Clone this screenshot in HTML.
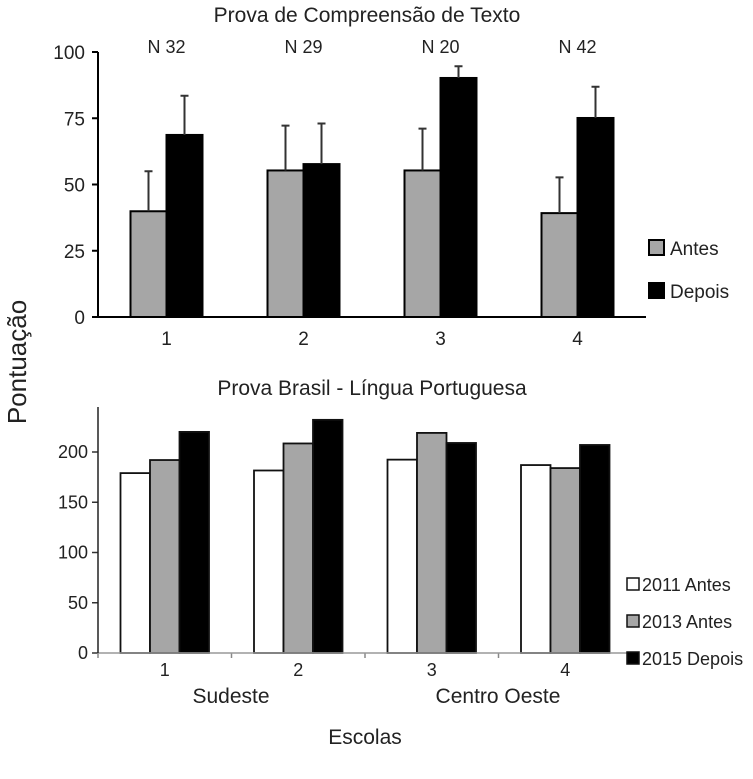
<!DOCTYPE html>
<html><head><meta charset="utf-8"><style>
html,body{margin:0;padding:0;background:#fff}
svg text{font-family:"Liberation Sans",sans-serif;fill:#222}
</style></head><body>
<svg id="c" width="753" height="774" xmlns="http://www.w3.org/2000/svg">
<text x="367" y="22" font-size="21" text-anchor="middle">Prova de Compreensão de Texto</text>
<text x="372" y="395" font-size="21" text-anchor="middle">Prova Brasil - Língua Portuguesa</text>
<text transform="translate(26,362) rotate(-90)" font-size="26" text-anchor="middle">Pontuação</text>
<text x="365" y="744" font-size="21" text-anchor="middle">Escolas</text>
<g id="top"></g><g id="bot"></g>
</svg>
<script>
const topCats=["1","2","3","4"];
const topN=["N 32","N 29","N 20","N 42"];
const topAntes=[39.9,55.3,55.3,39.2];
const topAntesErr=[55,72.2,71.1,52.7];
const topDepois=[68.7,57.7,90.2,75.1];
const topDepoisErr=[83.5,73,94.6,86.9];
const topTicks=[0,25,50,75,100];
const botCats=["1","2","3","4"];
const bot2011=[179,181.6,192.4,187];
const bot2013=[192,208.5,219,184];
const bot2015=[220,232,209,207];
const botTicks=[0,50,100,150,200];
const NS="http://www.w3.org/2000/svg";
function mk(p,t,a,txt){const e=document.createElementNS(NS,t);for(const k in a)e.setAttribute(k,a[k]);if(txt!==undefined)e.textContent=txt;p.appendChild(e);return e;}
// top chart
const T=document.getElementById('top');
const tx0=98,tx1=646,ty0=317,ty1=52;
const ty=v=>ty0-(v/100)*(ty0-ty1);
const tband=(tx1-tx0)/topCats.length;
const tcx=i=>tx0+tband*(i+0.5);
const tbw=36;
topTicks.forEach(v=>{
 let l=mk(T,'line',{x1:92,x2:tx0,y1:ty(v),y2:ty(v),stroke:'#000','stroke-width':2});
 
 let t=mk(T,'text',{x:85,y:ty(v)+7,'font-size':19,'text-anchor':'end'},v);
 
});
topCats.forEach((c,i)=>{
 const cx=tcx(i);
 let r=mk(T,'rect',{x:cx-tbw,y:ty(topAntes[i]),width:tbw,height:ty0-ty(topAntes[i]),fill:'#a6a6a6',stroke:'#000','stroke-width':2});
 
 let r2=mk(T,'rect',{x:cx,y:ty(topDepois[i]),width:tbw,height:ty0-ty(topDepois[i]),fill:'#000',stroke:'#000','stroke-width':2});
 
 [[cx-tbw/2,topAntes[i],topAntesErr[i],'antes'],[cx+tbw/2,topDepois[i],topDepoisErr[i],'depois']].forEach(([x,v,e,n])=>{
  let g=mk(T,'path',{d:`M${x},${ty(v)}V${ty(e)}M${x-4},${ty(e)}H${x+4}`,stroke:'#333','stroke-width':2,fill:'none'});
  
 });
 let nl=mk(T,'text',{x:cx,y:53,'font-size':18,'text-anchor':'middle'},topN[i]);
 
 let cl=mk(T,'text',{x:cx,y:345,'font-size':19,'text-anchor':'middle'},c);
 
});
let ax=mk(T,'path',{d:`M${tx0},${ty1}V${ty0}H${tx1}`,stroke:'#000','stroke-width':2,fill:'none'});

[['Antes','#a6a6a6',254],['Depois','#000',297]].forEach(([n,f,y])=>{
 let s=mk(T,'rect',{x:649,y:y-14,width:15,height:15,fill:f,stroke:'#000','stroke-width':2});
 
 let t=mk(T,'text',{x:670,y:y+1,'font-size':19},n);
 
});
// bottom chart
const B=document.getElementById('bot');
const bx0=98,bx1=632,by0=653,by200=452;
const by=v=>by0-v*(by0-by200)/200;
const bband=(bx1-bx0)/botCats.length;
const bcx=i=>bx0+bband*(i+0.5);
const bbw=29.5;
botTicks.forEach(v=>{
 let l=mk(B,'line',{x1:92,x2:bx0,y1:by(v),y2:by(v),stroke:'#333','stroke-width':1.5});
 
 let t=mk(B,'text',{x:88,y:by(v)+6,'font-size':18,'text-anchor':'end'},v);
 
});
const series=[[bot2011,'#fff','2011'],[bot2013,'#a6a6a6','2013'],[bot2015,'#000','2015']];
botCats.forEach((c,i)=>{
 const cx=bcx(i);
 series.forEach(([arr,f,n],k)=>{
  let r=mk(B,'rect',{x:cx-1.5*bbw+k*bbw,y:by(arr[i]),width:bbw,height:by0-by(arr[i]),fill:f,stroke:'#111','stroke-width':1.8});
  
 });
 let cl=mk(B,'text',{x:cx,y:676,'font-size':18,'text-anchor':'middle'},c);
 
});
for(let i=0;i<=botCats.length;i++){
 let t=mk(B,'line',{x1:bx0+bband*i,x2:bx0+bband*i,y1:by0,y2:by0+5,stroke:'#888','stroke-width':1.5});
 
}
let bx=mk(B,'line',{x1:bx0,x2:bx1,y1:by0,y2:by0,stroke:'#999','stroke-width':1.5});

let byax=mk(B,'line',{x1:bx0,x2:bx0,y1:407,y2:by0,stroke:'#222','stroke-width':1.5});

[['Sudeste',231],['Centro Oeste',498]].forEach(([n,x])=>{
 let t=mk(B,'text',{x:x,y:703,'font-size':21,'text-anchor':'middle'},n);
 
});
[['2011 Antes','#fff',591],['2013 Antes','#a6a6a6',628],['2015 Depois','#000',665]].forEach(([n,f,y])=>{
 let s=mk(B,'rect',{x:627,y:y-13,width:12,height:12,fill:f,stroke:'#111','stroke-width':1.5});
 
 let t=mk(B,'text',{x:642,y:y,'font-size':18},n);
 
});
</script>
</body></html>
